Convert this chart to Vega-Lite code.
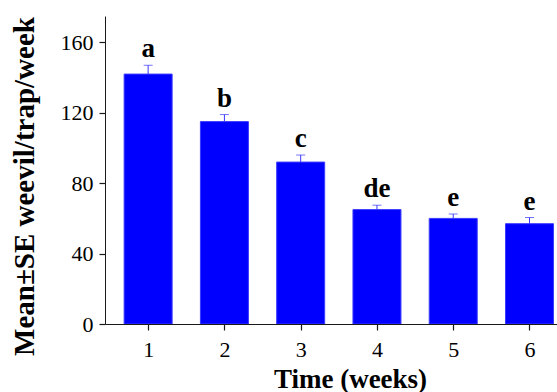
{
  "$schema": "https://vega.github.io/schema/vega-lite/v6.json",
  "width": 452,
  "height": 308,
  "autosize": {"type": "none"},
  "padding": {"left": 105, "top": 16, "right": 0, "bottom": 68},
  "background": "white",
  "config": {
    "view": {"stroke": null},
    "axis": {
      "grid": false,
      "domainColor": "#1a1a1a",
      "tickColor": "#1a1a1a",
      "labelFont": "Liberation Serif",
      "titleFont": "Liberation Serif",
      "labelColor": "#000000",
      "titleColor": "#000000"
    }
  },
  "data": {
    "values": [
      {"week": 1, "mean": 142, "upper": 147, "label": "a"},
      {"week": 2, "mean": 115, "upper": 119, "label": "b"},
      {"week": 3, "mean": 92, "upper": 96, "label": "c"},
      {"week": 4, "mean": 65, "upper": 67.5, "label": "de"},
      {"week": 5, "mean": 60, "upper": 62.5, "label": "e"},
      {"week": 6, "mean": 57, "upper": 60.5, "label": "e"}
    ]
  },
  "layer": [
    {
      "mark": {"type": "bar", "width": 48, "color": "#0000ff", "stroke": "#3b3bff", "strokeWidth": 1, "clip": true},
      "encoding": {
        "x": {
          "field": "week", "type": "quantitative",
          "scale": {"domain": [0.5, 6.295], "nice": false, "zero": false},
          "axis": {
            "orient": "bottom",
            "values": [1, 1.5, 2, 2.5, 3, 3.5, 4, 4.5, 5, 5.5, 6],
            "format": "d",
            "labelExpr": "datum.value % 1 === 0 ? datum.label : ''",
            "tickSize": {"condition": {"test": "datum.value % 1 !== 0", "value": 4}, "value": 6},
            "tickWidth": 1.2,
            "labelFontSize": 22, "labelPadding": 9,
            "labelFont": "Liberation Serif",
            "title": "Time (weeks)", "titleFontSize": 27, "titleFontWeight": "bold", "titleFont": "Liberation Serif",
            "titleX": 245, "titleY": 63, "titleBaseline": "alphabetic", "titleAlign": "center"
          }
        },
        "y": {
          "field": "mean", "type": "quantitative",
          "scale": {"domain": [0, 175], "nice": false},
          "axis": {
            "orient": "left",
            "values": [0, 20, 40, 60, 80, 100, 120, 140, 160],
            "format": "d",
            "labelExpr": "datum.value % 40 === 0 ? datum.label : ''",
            "tickSize": {"condition": {"test": "datum.value % 40 !== 0", "value": 4}, "value": 6},
            "tickWidth": 1.2,
            "labelFontSize": 22, "labelPadding": 6,
            "labelFont": "Liberation Serif",
            "title": "Mean±SE weevil/trap/week", "titleFontSize": 29, "titleFontWeight": "bold", "titleFont": "Liberation Serif",
            "titleAngle": -90, "titleX": -72, "titleY": 170, "titleAlign": "center", "titleBaseline": "alphabetic"
          }
        }
      }
    },
    {
      "mark": {"type": "rule", "color": "#3838ff", "strokeWidth": 1},
      "encoding": {
        "x": {"field": "week", "type": "quantitative"},
        "y": {"field": "mean", "type": "quantitative"},
        "y2": {"field": "upper"}
      }
    },
    {
      "mark": {"type": "tick", "orient": "horizontal", "size": 9, "thickness": 1, "color": "#3838ff"},
      "encoding": {
        "x": {"field": "week", "type": "quantitative"},
        "y": {"field": "upper", "type": "quantitative"}
      }
    },
    {
      "mark": {"type": "text", "dy": -8, "fontSize": 27, "fontWeight": "bold", "font": "Liberation Serif", "baseline": "alphabetic", "color": "#000000"},
      "encoding": {
        "x": {"field": "week", "type": "quantitative"},
        "y": {"field": "upper", "type": "quantitative"},
        "text": {"field": "label"}
      }
    }
  ]
}
